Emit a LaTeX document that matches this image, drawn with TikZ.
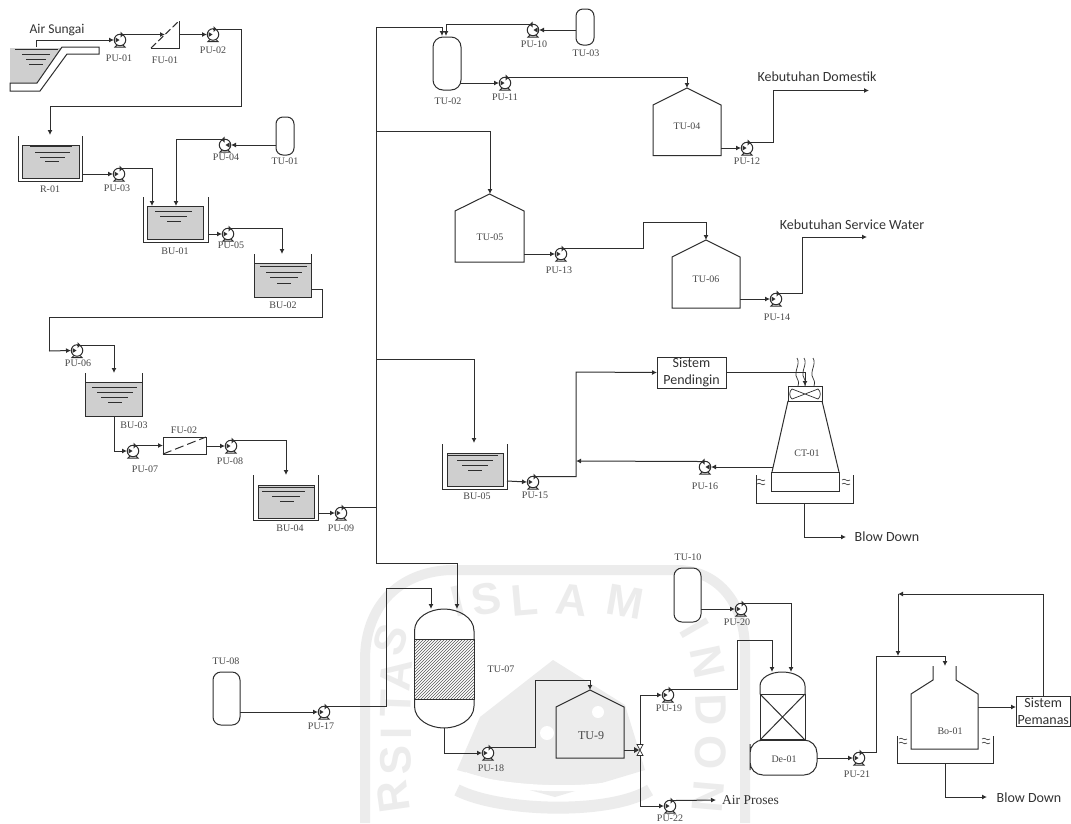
\documentclass[tikz,border=0pt]{standalone}
\usepackage{fontspec}
\setmainfont{Liberation Serif}
\newfontfamily\calib{Carlito}
\newfontfamily\wmfont{Liberation Sans}
\usetikzlibrary{arrows.meta,patterns}
\definecolor{ink}{gray}{0.18}
\definecolor{waterc}{gray}{0.81}
\definecolor{wm}{gray}{0.925}
\tikzset{
  pipe/.style={draw=ink,line width=1pt},
  pipea/.style={pipe,-{Latex[length=5pt,width=5pt]}},
  unit/.style={draw=ink,line width=1pt,inner sep=0pt,outer sep=0pt},
  ghost/.style={inner sep=0pt,outer sep=0pt},
  water/.style={unit,fill=waterc},
  capsule/.style={unit,fill=white},
  lab/.style={text=black!72,font=\fontsize{10}{12}\selectfont,inner sep=0pt},
  sans/.style={text=black!80,font=\calib\fontsize{14}{16}\selectfont,inner sep=0pt},
  pumpc/.style={circle,draw=ink,line width=1pt,minimum size=11.5pt,inner sep=0pt,outer sep=0pt,fill=white},
  wmtext/.style={text=wm,font=\wmfont\bfseries\fontsize{44}{44}\selectfont,inner sep=0pt},
}
\newcommand{\pump}[7]{%
  \begin{scope}[shift={(#2,#3)},xscale=#4]
    \node[pumpc] (#1) at (0,0) {};
    \coordinate (#1in) at (-6,0);
    \coordinate (#1out) at (5,-5.5);
    \fill[ink] (-4.5,-2.5) -- (-0.5,0) -- (-4.5,2.5) -- cycle;
    \fill[ink] (0.5,-8.5) -- (3.5,-5.5) -- (0.5,-2.5) -- cycle;
    \draw[pipe] (-3,5) -- (-5,7) -- (5,7) -- (3,5);
    \draw[pipe] (0,-5.5) -- (5,-5.5);
  \end{scope}
  \node[lab] (#1lab) at (#6,#7) {#5};}
\newcommand{\boxn}[6]{% style, name, x1,y1,x2,y2
  \pgfmathsetmacro\bw{#5-(#3)}\pgfmathsetmacro\bh{#6-(#4)}%
  \pgfmathsetmacro\bx{(#3+#5)/2}\pgfmathsetmacro\by{(#4+#6)/2}%
  \node[#1,minimum width=\bw pt,minimum height=\bh pt] (#2) at (\bx,\by) {};}
\newcommand{\wl}[3]{\draw[ink,line width=0.8pt] (#1,#3) -- (#2,#3);}
\newcommand{\house}[6]{% name, x1,x2,yapex,yeave,ybot
  \pgfmathsetmacro\hx{(#2+#3)/2}%
  \boxn{ghost}{#1}{#2}{#4}{#3}{#6}
  \draw[unit] (#2,#5) -- (\hx,#4) -- (#3,#5) -- (#3,#6) -- (#2,#6) -- cycle;}
\newcommand{\wavy}[2]{%
  \draw[ink,line width=0.6pt] (#1,#2) .. controls (#1+3,#2-3) and (#1+5,#2+3) .. (#1+8,#2);
  \draw[ink,line width=0.6pt] (#1,#2+4) .. controls (#1+3,#2+1) and (#1+5,#2+7) .. (#1+8,#2+4);}
\begin{document}
\begin{tikzpicture}[x=1pt,y=-1pt]
\useasboundingbox (0,0) rectangle (1071,823);
\fill[white] (0,0) rectangle (1071,823);
%% watermark
\draw[wm,line width=10pt] (365,823) -- (365,660) .. controls (365,605) and (400,572) .. (450,570) -- (680,570) .. controls (720,572) and (745,605) .. (745,650) -- (745,823);
\fill[wm] (553,660) -- (625,705) -- (645,770) -- (555,797) -- (457,770) -- (480,717) -- cycle;
\fill[white] (547,733) circle (7);
\fill[white] (598,712) circle (6);
\draw[white,line width=6pt] (465,775) .. controls (500,790) and (610,795) .. (640,775);
\draw[wm,line width=12pt] (457,790) .. controls (500,812) and (610,815) .. (650,790);
\node[wmtext,rotate=14] (wI0) at (458,601) {I};
\node[wmtext,rotate=10] (wS0) at (486,599) {S};
\node[wmtext,rotate=5] (wL0) at (525,600) {L};
\node[wmtext,rotate=-6] (wA0) at (572,600) {A};
\node[wmtext,rotate=-10] (wM0) at (625,602) {M};
\node[wmtext,rotate=72] (wS1) at (391,640) {S};
\node[wmtext,rotate=84] (wA) at (396,675) {A};
\node[wmtext,rotate=88] (wT) at (396,704) {T};
\node[wmtext,rotate=90] (wI) at (396,733) {I};
\node[wmtext,rotate=92] (wS2) at (396,760) {S};
\node[wmtext,rotate=98] (wR) at (393,797) {R};
\node[wmtext,rotate=-60] (wI1) at (695,628) {I};
\node[wmtext,rotate=-78] (wN1) at (708,662) {N};
\node[wmtext,rotate=-88] (wD) at (711,710) {D};
\node[wmtext,rotate=-90] (wO) at (711,753) {O};
\node[wmtext,rotate=-95] (wN2) at (708,797) {N};

%% river
\fill[waterc] (10,48) -- (62,48) -- (37,83) -- (10,83) -- cycle;
\draw[unit] (10,83) -- (37,83) -- (62,47) -- (99,47) -- (99,54) -- (67,54) -- (40,91) -- (10,91) -- cycle;
\wl{15}{58}{49}\wl{22}{50}{54}\wl{26}{46}{59}\wl{29}{43}{64}
\coordinate (river) at (36,47);
\node[sans,font=\calib\fontsize{13.5}{15}\selectfont] (tAir) at (57,30) {Air Sungai};

%% pumps
\pump{PU01}{120}{40}{1}{PU-01}{119}{58}
\pump{PU02}{213}{34.5}{1}{PU-02}{213}{50}
\pump{PU03}{119}{174}{1}{PU-03}{117}{188}
\pump{PU04}{225}{145}{-1}{PU-04}{226}{157}
\pump{PU05}{228}{234}{1}{PU-05}{231}{245}
\pump{PU06}{77}{350.5}{1}{PU-06}{78}{363}
\pump{PU07}{133}{451}{1}{PU-07}{145}{469}
\pump{PU08}{231}{446}{1}{PU-08}{230}{461}
\pump{PU09}{341}{513}{1}{PU-09}{341}{528}
\pump{PU10}{533}{30}{-1}{PU-10}{534}{44}
\pump{PU11}{505}{83}{1}{PU-11}{505}{97}
\pump{PU12}{747}{148}{1}{PU-12}{747}{161}
\pump{PU13}{561}{254}{1}{PU-13}{559}{270}
\pump{PU14}{776}{299}{1}{PU-14}{777}{317}
\pump{PU15}{533}{482}{1}{PU-15}{535}{495}
\pump{PU16}{705}{467}{-1}{PU-16}{705}{486}
\pump{PU17}{324}{712}{1}{PU-17}{321}{726}
\pump{PU18}{488}{753}{1}{PU-18}{491}{768}
\pump{PU19}{668}{695}{1}{PU-19}{669}{708}
\pump{PU20}{741}{609}{1}{PU-20}{737}{622}
\pump{PU21}{859}{758}{1}{PU-21}{857}{774}
\pump{PU22}{670}{806}{1}{PU-22}{670}{818}

%% FU-01
\boxn{ghost}{FU01}{151}{21}{179}{48}
\draw[pipe] (151,48) -- (179,48) -- (179,21);
\draw[pipe,dash pattern=on 7pt off 3pt] (151,48) -- (179,21);
\node[lab] (lFU01) at (165,60) {FU-01};
\coordinate (FU01in) at (165,34.5);
\coordinate (FU01out) at (179,34.5);

%% R-01
\boxn{water}{R01}{22}{145}{79}{178}
\draw[unit] (18,136) -- (18,181) -- (82,181) -- (82,136);
\wl{30}{72}{146}\wl{35}{70}{152}\wl{40}{65}{157}\wl{45}{59}{161}
\node[lab] (lR01) at (50,189) {R-01};
\coordinate (R01in) at (50,135);
\coordinate (R01out) at (82,174);
\coordinate (b1) at (241,106);

%% BU-01
\boxn{water}{BU01}{147}{206}{203}{239}
\draw[unit] (143,197) -- (143,242) -- (208,242) -- (208,197);
\wl{155}{192}{211}\wl{160}{187}{216}\wl{167}{181}{221}
\node[lab] (lBU01) at (175,251) {BU-01};
\coordinate (BU01a) at (152,206);
\coordinate (BU01b) at (176,206);
\coordinate (BU01out) at (208,234);

%% TU-01
\boxn{capsule,rounded corners=7pt}{TU01}{276}{117}{294}{155}
\node[lab] (lTU01) at (285,161) {TU-01};
\coordinate (TU01out) at (276,145);

%% BU-02
\boxn{water}{BU02}{254}{263}{311}{297}
\draw[unit] (254,254) -- (254,263) (311,254) -- (311,263);
\wl{260}{307}{266}\wl{266}{302}{272}\wl{270}{298}{277}\wl{277}{291}{283}
\node[lab] (lBU02) at (283,305) {BU-02};
\coordinate (BU02in) at (282,254);
\coordinate (BU02out) at (311,289);
\coordinate (b2) at (322,317);
\coordinate (b3) at (49,351);

%% BU-03
\boxn{water}{BU03}{85}{382}{142}{416}
\draw[unit] (85,373) -- (85,382) (142,373) -- (142,382);
\wl{92}{137}{387}\wl{97}{133}{392}\wl{101}{128}{397}\wl{108}{122}{402}
\node[lab] (lBU03) at (134,425) {BU-03};
\coordinate (BU03in) at (114,373);
\coordinate (BU03out) at (114,416);

%% FU-02
\boxn{unit}{FU02}{163}{437}{206}{454}
\draw[pipe,dash pattern=on 9pt off 4pt] (FU02.south west) -- (FU02.north east);
\node[lab] (lFU02) at (184,430) {FU-02};
\coordinate (FU02in) at (163,445.5);
\coordinate (FU02out) at (206,446);

%% BU-04
\boxn{water}{BU04}{258}{485}{314}{518}
\draw[unit] (253,475) -- (253,520) -- (318,520) -- (318,475);
\wl{258}{314}{487}\wl{262}{305}{491}\wl{272}{300}{496}\wl{280}{294}{501}
\node[lab] (lBU04) at (290,528) {BU-04};
\coordinate (BU04in) at (286,475);
\coordinate (BU04out) at (318,513);

%% header
\coordinate (h0) at (376,507.5);
\coordinate (hTop) at (376,27);
\coordinate (h131) at (376,131);
\coordinate (h359) at (376,359);
\coordinate (hBot) at (376,563.5);
\draw[pipe] (hTop) -- (hBot);

%% TU-02, TU-03
\boxn{capsule,rounded corners=10pt}{TU02}{433}{37}{461}{90}
\node[lab] (lTU02) at (448,101) {TU-02};
\coordinate (TU02a) at (442,36);
\coordinate (TU02b) at (446,36);
\coordinate (TU02out) at (461,83);
\boxn{capsule,rounded corners=7pt}{TU03}{576}{9}{594}{45}
\node[lab] (lTU03) at (586,53) {TU-03};
\coordinate (TU03out) at (576,30);

%% houses
\house{TU04}{653}{721}{88}{105}{155.5}
\node[lab] (lTU04) at (687,126) {TU-04};
\coordinate (TU04in) at (687,88);
\coordinate (TU04out) at (721,148);
\coordinate (dom) at (773,90.5);
\coordinate (domEnd) at (869,90.5);
\node[sans] (tDom) at (817,77) {Kebutuhan Domestik};

\house{TU05}{455}{524}{194}{211}{262}
\node[lab] (lTU05) at (490,237) {TU-05};
\coordinate (TU05in) at (490,194);
\coordinate (TU05out) at (524,254);
\coordinate (b4) at (643,222);
\house{TU06}{672}{740}{240}{257}{308}
\node[lab] (lTU06) at (706,279) {TU-06};
\coordinate (TU06in) at (706,240);
\coordinate (TU06out) at (740,299);
\coordinate (svc) at (802,237);
\coordinate (svcEnd) at (867,237);
\node[sans] (tSvc) at (852,225) {Kebutuhan Service Water};

%% BU-05
\boxn{water}{BU05}{447}{453}{503}{486}
\draw[unit] (442,444) -- (442,489) -- (507,489) -- (507,444);
\wl{447}{498}{455}\wl{457}{493}{460}\wl{462}{488}{465}\wl{468}{482}{470}
\node[lab] (lBU05) at (477,496) {BU-05};
\coordinate (BU05in) at (474,443);
\coordinate (BU05out) at (507,481);
\coordinate (jC) at (576,372);
\coordinate (jD) at (576,461);

%% Sistem Pendingin
\node[unit,sans,minimum width=69pt,minimum height=31pt,align=center,font=\calib\fontsize{14}{16.5}\selectfont] (SP) at (691.5,372.5) {Sistem\\Pendingin};

%% CT-01
\draw[unit] (788,401) -- (772,472) (822,401) -- (839,472);
\boxn{unit}{CTfan}{788}{386}{822}{401}
\boxn{unit}{CTb}{771.5}{472}{839}{491}
\draw[ink,line width=0.7pt] (805,394) -- (792,389) .. controls (789,391) and (789,397) .. (792,399) -- (805,394)
  -- (818,389) .. controls (821,391) and (821,397) .. (818,399) -- cycle;
\foreach \sx/\sn in {797/a,804/b,813/c}{
  \draw[ink,line width=0.7pt] (\sx,358) .. controls (\sx+4,364) and (\sx-4,372) .. (\sx,378) .. controls (\sx+2,382) and (\sx+2,384) .. (\sx+1,386);
}
\draw[unit] (756,475) -- (756,503) -- (853,503) -- (853,475);
\wavy{757}{480}\wavy{842}{480}
\node[lab] (lCT) at (807,453) {CT-01};
\coordinate (CTin) at (805,386);
\coordinate (CTout) at (772.5,467);
\coordinate (CTb1) at (804,503);
\coordinate (CTb2) at (846,537);
\node[sans] (tBD1) at (887,537) {Blow Down};

%% TU-07
\boxn{ghost}{TU07}{414.5}{609}{474}{728}
\draw[unit] (414.5,631) .. controls (414.5,617) and (430,609) .. (444,609) .. controls (458,609) and (474,617) .. (474,631)
  -- (474,706) .. controls (474,720) and (458,728) .. (444,728) .. controls (430,728) and (414.5,720) .. (414.5,706) -- cycle;
\fill[white] (414.5,639) rectangle (474,699);
\fill[pattern=north east lines,pattern color=black!65] (414.5,639) rectangle (474,699);
\draw[unit] (414.5,639) rectangle (474,699);
\node[lab] (lTU07) at (501,669) {TU-07};
\coordinate (T7a) at (431,609);
\coordinate (T7b) at (457,609);
\coordinate (T7out) at (444,728);

%% TU-08
\boxn{capsule,rounded corners=8pt}{TU08}{213}{672}{240}{725}
\node[lab] (lTU08) at (226,661) {TU-08};
\coordinate (T8out) at (240,712);
\coordinate (b5) at (386,588);

%% TU-9
\house{TU9}{556}{624}{690}{707}{758}
\node[lab,font=\fontsize{12}{14}\selectfont] (lTU9) at (591,736) {TU-9};
\coordinate (T9in) at (590,690);
\coordinate (T9out) at (624,750);
\coordinate (b6) at (535,680);

%% valve
\node[ghost,minimum size=4pt] (V) at (640,750) {};
\draw[ink,line width=0.7pt,fill=white] (637,744.5) -- (643,744.5) -- (637,755.5) -- (643,755.5) -- cycle;
\fill[ink] (634,747) -- (639,750) -- (634,753) -- cycle;
\coordinate (Vl) at (634,750);
\coordinate (Vu) at (640,744.5);
\coordinate (Vd) at (640,755.5);
\coordinate (b7) at (737,640);

%% TU-10
\boxn{capsule,rounded corners=8pt}{TU10}{674}{568}{701}{622}
\node[lab] (lTU10) at (688,557) {TU-10};
\coordinate (T10out) at (701,609);

%% De-01
\boxn{ghost}{De01}{750}{672}{817}{775}
\draw[unit,fill=white] (760,694) -- (760,686) .. controls (760,678) and (770,672) .. (782,672) .. controls (795,672) and (805,678) .. (805,686) -- (805,694);
\draw[unit] (760,694) rectangle (805,740);
\draw[unit] (760,694) -- (805,740) (805,694) -- (760,740);
\draw[ink,line width=1.5pt] (760,740) -- (805,740);
\draw[unit,rounded corners=13pt] (750,757) -- (750,740) -- (817,740) -- (817,775) -- (750,775) -- cycle;
\node[lab] (lDe) at (784,759) {De-01};
\coordinate (Dea) at (772,672);
\coordinate (Deb) at (791,672);
\coordinate (Deout) at (817,758);
\coordinate (b8) at (876,656);
\coordinate (j2) at (898,656);

%% Bo-01
\boxn{ghost}{Bo01}{911}{666}{978}{749}
\draw[unit] (933,666) -- (933,680) -- (911,694) -- (911,749) -- (978,749) -- (978,694) -- (956,680) -- (956,666);
\draw[unit] (897,736) -- (897,763) -- (993,763) -- (993,736);
\wavy{899}{739}\wavy{982}{739}
\node[lab] (lBo) at (950,731) {Bo-01};
\coordinate (Boin) at (945,666);
\coordinate (Boout) at (978,707);
\coordinate (Bob1) at (945,763);
\coordinate (Bob2) at (987,797);
\node[sans] (tBD2) at (1029,798) {Blow Down};

%% Sistem Pemanas
\node[unit,sans,minimum width=54.5pt,minimum height=30pt,align=center,font=\calib\fontsize{14}{16.5}\selectfont] (SH) at (1043.25,711) {Sistem\\Pemanas};
\coordinate (SHin) at (1016,707);
\coordinate (SHtop) at (1043,696);
\coordinate (j3) at (898,594);
\coordinate (AP) at (716,800);
\node[text=black!80,inner sep=0pt,font=\fontsize{13.5}{15}\selectfont] (tAP) at (750.5,800) {Air Proses};

%% connectors
\draw[pipea] (river) |- (PU01in);
\draw[pipea] (PU01out) -- (FU01in);
\draw[pipea] (FU01out) -- (PU02in);
\draw[pipea] (PU02out) -| (b1) -| (R01in);
\draw[pipea] (R01out) -- (PU03in);
\draw[pipea] (PU03out) -| (BU01a);
\draw[pipea] (TU01out) -- (PU04in);
\draw[pipea] (PU04out) -| (BU01b);
\draw[pipea] (BU01out) -- (PU05in);
\draw[pipea] (PU05out) -| (BU02in);
\draw[pipe] (BU02out) -| (b2) -| (b3);
\draw[pipea] (b3) -- (PU06in);
\draw[pipea] (PU06out) -| (BU03in);
\draw[pipea] (BU03out) |- (PU07in);
\draw[pipea] (PU07out) -- (FU02in);
\draw[pipea] (FU02out) -- (PU08in);
\draw[pipea] (PU08out) -| (BU04in);
\draw[pipea] (BU04out) -- (PU09in);
\draw[pipe] (PU09out) -- (h0);
\draw[pipea] (hTop) -| (TU02a);
\draw[pipea] (TU03out) -- (PU10in);
\draw[pipea] (PU10out) -| (TU02b);
\draw[pipea] (TU02out) -- (PU11in);
\draw[pipea] (PU11out) -| (TU04in);
\draw[pipea] (TU04out) -- (PU12in);
\draw[pipea] (PU12out) -| (dom) -- (domEnd);
\draw[pipea] (h131) -| (TU05in);
\draw[pipea] (TU05out) -- (PU13in);
\draw[pipea] (PU13out) -| (b4) -| (TU06in);
\draw[pipea] (TU06out) -- (PU14in);
\draw[pipea] (PU14out) -| (svc) -- (svcEnd);
\draw[pipea] (h359) -| (BU05in);
\draw[pipea] (BU05out) -- (PU15in);
\draw[pipea] (PU15out) -| (jC) -- (SP.west);
\draw[pipea] (SP.east) -| (CTin);
\draw[pipea] (CTout) -- (PU16in);
\draw[pipea] (PU16out) -- (jD);
\draw[pipea] (CTb1) |- (CTb2);
\draw[pipea] (hBot) -| (T7b);
\draw[pipea] (T8out) -- (PU17in);
\draw[pipea] (PU17out) -| (b5) -| (T7a);
\draw[pipea] (T7out) |- (PU18in);
\draw[pipea] (PU18out) -| (b6) -| (T9in);
\draw[pipe] (T9out) -- (Vl);
\draw[pipea] (Vu) |- (PU19in);
\draw[pipea] (Vd) |- (PU22in);
\draw[pipea] (PU22out) -- (AP);
\draw[pipea] (PU19out) -| (b7) -| (Dea);
\draw[pipea] (T10out) -- (PU20in);
\draw[pipea] (PU20out) -| (Deb);
\draw[pipea] (Deout) -- (PU21in);
\draw[pipea] (PU21out) -| (b8) -| (Boin);
\draw[pipea] (Boout) -- (SHin);
\draw[pipea] (SHtop) |- (j3);
\draw[pipea] (j3) -- (j2);
\draw[pipea] (Bob1) |- (Bob2);
\end{tikzpicture}
\end{document}
